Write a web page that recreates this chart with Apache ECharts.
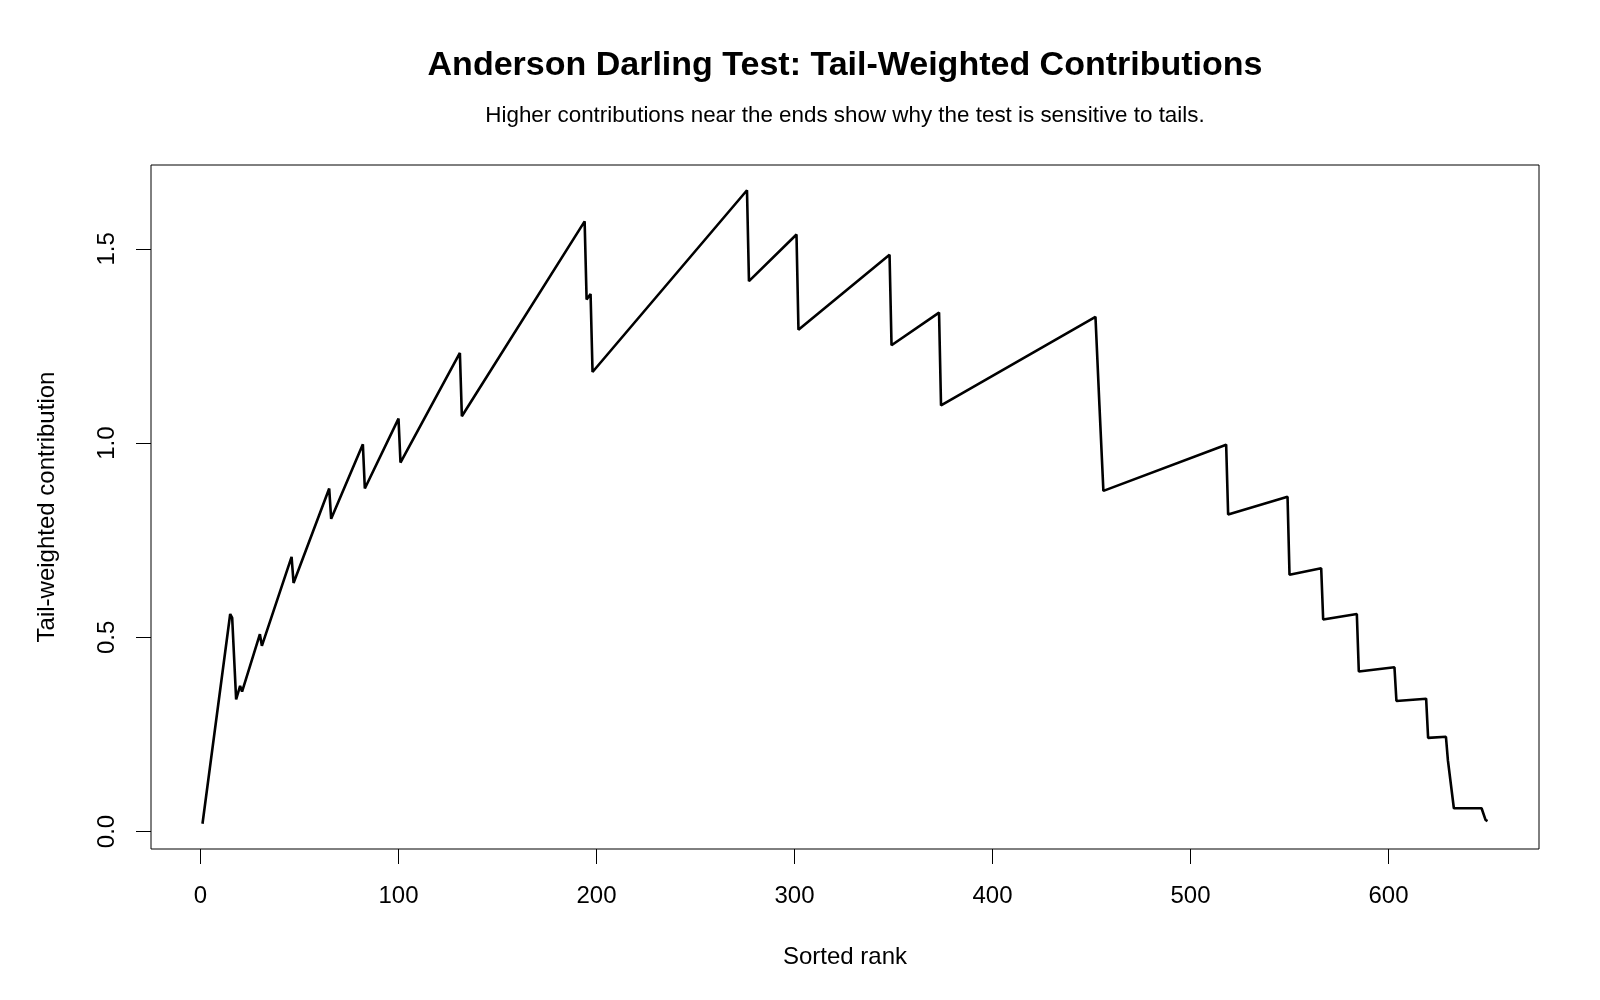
<!DOCTYPE html>
<html>
<head>
    <meta charset="UTF-8">
    <title>Anderson Darling Test: Tail-Weighted Contributions</title>
    <script src="https://cdn.jsdelivr.net/npm/echarts@6.0.0/dist/echarts.min.js"></script>
    <style>
        html, body { margin: 0; padding: 0; background: #fff; }
        #chart { width: 1600px; height: 1000px; }
    </style>
</head>
<body>
    <div id="chart"></div>

    <script>
        // Corner points of the contribution curve (rank, value)
        var ranks = [1, 15, 16, 18, 20, 21, 30, 31, 46, 47, 65, 66, 82, 83, 100, 101, 131, 132,
            194, 195, 197, 198, 276, 277, 301, 302, 348, 349, 373, 374, 452, 454, 455, 456,
            518, 519, 549, 550, 566, 567, 584, 585, 603, 604, 619, 620, 629, 630, 631, 633,
            647, 649, 650];
        var contributions = [0.020, 0.560, 0.550, 0.340, 0.375, 0.360, 0.508, 0.478, 0.707, 0.640,
            0.883, 0.805, 0.997, 0.883, 1.063, 0.950, 1.232, 1.069,
            1.571, 1.370, 1.384, 1.183, 1.651, 1.417, 1.537, 1.292, 1.485, 1.252, 1.336, 1.097,
            1.325, 1.097, 1.092, 0.877, 0.996, 0.816, 0.862, 0.661, 0.678, 0.546, 0.560, 0.412,
            0.423, 0.336, 0.342, 0.241, 0.244, 0.183, 0.180, 0.060, 0.060, 0.030, 0.027];

        var xTicks = [0, 100, 200, 300, 400, 500, 600];
        var yTicks = [0, 0.5, 1.0, 1.5];

        var font = 'Liberation Sans, Arial, sans-serif';

        var lineData = [];
        for (var i = 0; i < ranks.length; i++) {
            lineData.push([ranks[i], contributions[i]]);
        }

        var chart = echarts.init(document.getElementById('chart'));

        var option = {
            backgroundColor: '#fff',
            animation: false,
            title: [{
                text: 'Anderson Darling Test: Tail-Weighted Contributions',
                left: 845,
                top: 49,
                textAlign: 'center',
                padding: 0,
                textStyle: { fontFamily: font, fontSize: 34, fontWeight: 'bold', color: '#000' }
            }, {
                text: 'Higher contributions near the ends show why the test is sensitive to tails.',
                left: 845,
                top: 105,
                textAlign: 'center',
                padding: 0,
                textStyle: { fontFamily: font, fontSize: 22.4, fontWeight: 'normal', color: '#000' }
            }],
            grid: {
                left: 151,
                top: 165,
                width: 1388,
                height: 684,
                show: true,
                borderColor: '#000',
                borderWidth: 1,
                backgroundColor: 'transparent'
            },
            xAxis: {
                type: 'value',
                min: -25,
                max: 676,
                name: 'Sorted rank',
                nameLocation: 'middle',
                nameGap: 96,
                nameTextStyle: { fontFamily: font, fontSize: 24, color: '#000' },
                axisLine: { show: false, onZero: false },
                splitLine: { show: false },
                axisTick: {
                    show: true,
                    length: 15,
                    customValues: xTicks,
                    lineStyle: { color: '#000', width: 1 }
                },
                axisLabel: {
                    customValues: xTicks,
                    margin: 35,
                    fontFamily: font,
                    fontSize: 24,
                    color: '#000'
                }
            },
            yAxis: {
                type: 'value',
                min: -0.045,
                max: 1.716,
                name: 'Tail-weighted contribution',
                nameLocation: 'middle',
                nameRotate: 90,
                nameGap: 92,
                nameTextStyle: { fontFamily: font, fontSize: 24, color: '#000' },
                axisLine: { show: false, onZero: false },
                splitLine: { show: false },
                axisTick: {
                    show: true,
                    length: 15,
                    customValues: yTicks,
                    lineStyle: { color: '#000', width: 1 }
                },
                axisLabel: {
                    customValues: yTicks,
                    rotate: 90,
                    margin: 32,
                    fontFamily: font,
                    fontSize: 24,
                    color: '#000',
                    formatter: function (v) { return v.toFixed(1); }
                }
            },
            series: [{
                type: 'line',
                data: lineData,
                showSymbol: false,
                symbol: 'none',
                lineStyle: { color: '#000', width: 2.6 },
                emphasis: { disabled: true }
            }]
        };

        chart.setOption(option);
    </script>
</body>
</html>
